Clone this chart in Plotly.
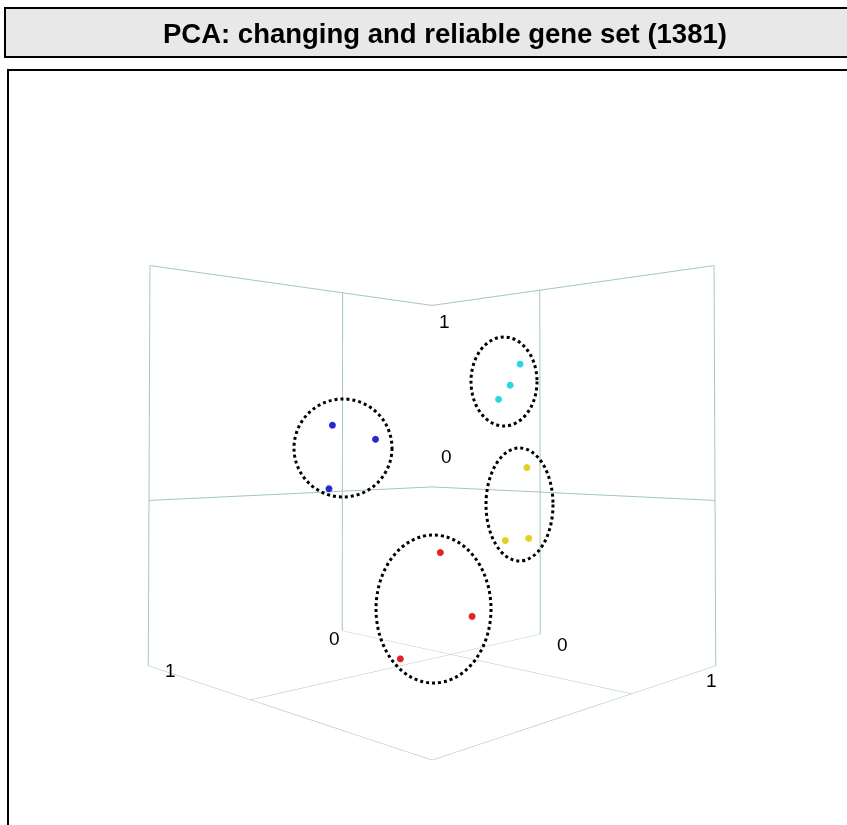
import plotly.graph_objects as go

W, H = 847, 825

# ---- data (PC1, PC2, PC3) ----
groups = ["blue", "cyan", "yellow", "red"]
group_colors = ["rgb(40,40,215)", "rgb(40,215,225)", "rgb(225,210,30)", "rgb(225,35,35)"]
pc1 = [[0.48, 0.36, 0.49], [-0.05, -0.02, 0.01], [-0.07, -0.07, -0.01], [0.18, 0.09, 0.29]]
pc2 = [[-0.22, -0.08, -0.23], [0.38, 0.35, 0.31], [0.40, 0.41, 0.33], [0.13, 0.23, 0.00]]
pc3 = [[0.32, 0.26, 0.05], [0.58, 0.49, 0.43], [0.14, -0.16, -0.17], [-0.22, -0.49, -0.67]]

x_range = [-0.6, 1.0]
y_range = [-0.8, 1.0]
z_range = [-0.7, 1.0]
tick_vals = [0, 1]

title_text = "PCA: changing and reliable gene set (1381)"

# dotted cluster outlines (pixel boxes: x0, y0, x1, y1)
ellipse_boxes = [(294, 399, 392, 497), (471, 337, 537, 426), (486, 448, 553, 561), (376, 535, 491, 683)]

fig = go.Figure()
for g, col, xs, ys, zs in zip(groups, group_colors, pc1, pc2, pc3):
    fig.add_trace(go.Scatter3d(
        x=xs, y=ys, z=zs, mode="markers", name=g,
        marker=dict(size=4, color=col, line=dict(width=0)),
        hoverinfo="skip", showlegend=False))

grid_col = "rgb(165,196,196)"
axis_common = dict(showbackground=False, showgrid=True, gridcolor=grid_col, gridwidth=2,
                   zeroline=False, showline=False, ticks="", showticklabels=False,
                   tickvals=tick_vals, title=dict(text=""), showspikes=False)

def px(xp):
    return xp / W

def py(yp):
    return 1 - yp / H

# tick labels as scene annotations
ann = []
lab_font = dict(family="Liberation Sans, Arial", size=19, color="black")
ann_specs = [
    (1, y_range[0], z_range[0], "1", 22, -5),
    (0, y_range[0], z_range[0], "0", -8, -8),
    (x_range[0], 0, z_range[0], "0", 22, -10),
    (x_range[0], 1, z_range[0], "1", -4, -15),
    (x_range[0], y_range[0], 1, "1", 12, -16),
    (x_range[0], y_range[0], 0, "0", 14, 30),
]
for ax_, ay_, az_, t, xs_, ys_ in ann_specs:
    ann.append(dict(x=ax_, y=ay_, z=az_, text=t, showarrow=False, font=lab_font,
                    xshift=xs_, yshift=ys_))

fig.update_layout(
    width=W, height=H,
    margin=dict(l=0, r=0, t=0, b=0),
    paper_bgcolor="white",
    scene=dict(
        domain=dict(x=[px(17), 1.0], y=[0.0, py(30)]),
        xaxis=dict(range=x_range, **axis_common),
        yaxis=dict(range=y_range, **axis_common),
        zaxis=dict(range=z_range, **axis_common),
        aspectmode="manual", aspectratio=dict(x=1, y=1, z=1),
        camera=dict(eye=dict(x=1.697, y=1.697, z=0.06),
                    center=dict(x=0, y=0, z=0.094),
                    up=dict(x=0, y=0, z=1),
                    projection=dict(type="perspective")),
        annotations=ann,
        bgcolor="rgba(0,0,0,0)",
    ),
)

shapes = [
    dict(type="rect", xref="paper", yref="paper", x0=px(5), x1=px(860), y0=py(8), y1=py(57),
         fillcolor="rgb(232,232,232)", line=dict(color="black", width=2), layer="above"),
    dict(type="rect", xref="paper", yref="paper", x0=px(8), x1=px(860), y0=py(70), y1=py(840),
         fillcolor="rgba(0,0,0,0)", line=dict(color="black", width=2)),
]
for (x0, y0, x1, y1) in ellipse_boxes:
    shapes.append(dict(type="circle", xref="paper", yref="paper",
                       x0=px(x0), x1=px(x1), y0=py(y0), y1=py(y1),
                       line=dict(color="black", width=3, dash="dot")))
fig.update_layout(shapes=shapes)

fig.add_annotation(xref="paper", yref="paper", x=px(445), y=py(33), text="<b>" + title_text + "</b>",
                   showarrow=False, font=dict(family="Liberation Sans, Arial", size=27.5, color="black"),
                   xanchor="center", yanchor="middle")

fig.write_html("out.html", config=dict(displayModeBar=False),
               post_script="document.body.style.margin='0px';document.body.style.overflow='hidden';")
